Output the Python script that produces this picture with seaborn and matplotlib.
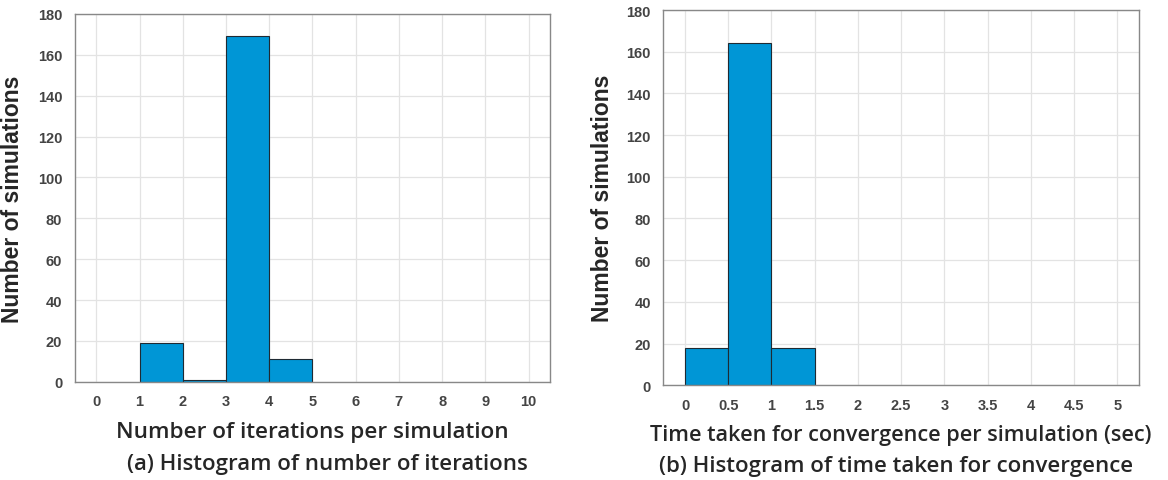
import numpy as np
import pandas as pd
import seaborn as sns
import matplotlib
matplotlib.use("Agg")
import matplotlib.pyplot as plt

# Data
iter_bin_edges = [1, 2, 3, 4, 5]
iter_counts = [19, 1, 169, 11]
time_bin_edges = [0, 0.5, 1.0, 1.5]
time_counts = [18, 164, 18]

iter_ticks = [0, 1, 2, 3, 4, 5, 6, 7, 8, 9, 10]
time_ticks = [0, 0.5, 1, 1.5, 2, 2.5, 3, 3.5, 4, 4.5, 5]
time_tick_labels = ["0", "0.5", "1", "1.5", "2", "2.5", "3", "3.5", "4", "4.5", "5"]
y_ticks = [0, 20, 40, 60, 80, 100, 120, 140, 160, 180]

sns.set_style("white")
plt.rcParams['font.family'] = ['Liberation Sans', 'DejaVu Sans']

BAR = "#0096d6"
EDGE = "#1f2a33"
TICKC = "#444444"
SPINE = "#888888"
LBLFONT = ['Open Sans', 'DejaVu Sans']

fig = plt.figure(figsize=(11.68, 4.81), dpi=100)
ax1 = fig.add_axes([0.064, 0.204, 0.407, 0.765])
ax2 = fig.add_axes([0.568, 0.197, 0.407, 0.780])

def style(ax):
    ax.grid(True, color="#e3e3e3", linewidth=0.9)
    ax.set_axisbelow(True)
    for s in ax.spines.values():
        s.set_visible(True)
        s.set_color(SPINE)
        s.set_linewidth(1.0)
    ax.tick_params(axis='both', direction='in', length=4, color=SPINE,
                   labelsize=10.5, labelcolor=TICKC, pad=9)
    for lab in ax.get_xticklabels() + ax.get_yticklabels():
        lab.set_fontweight('bold')
    ax.set_yticks(y_ticks)
    ax.set_ylim(0, 180)

# Left histogram
df1 = pd.DataFrame({"x": [(a + b) / 2 for a, b in zip(iter_bin_edges[:-1], iter_bin_edges[1:])],
                    "w": iter_counts})
sns.histplot(data=df1, x="x", weights="w", bins=iter_bin_edges, ax=ax1,
             color=BAR, alpha=1.0, edgecolor=EDGE, linewidth=0.8)
ax1.set_xlim(-0.5, 10.5)
ax1.set_xticks(iter_ticks)
style(ax1)
ax1.set_xlabel("Number of iterations per simulation", fontsize=16.2, family=LBLFONT,
               fontweight='semibold', labelpad=9)
ax1.set_ylabel("Number of simulations", fontsize=16.5, fontweight='bold', labelpad=10)

# Right histogram
df2 = pd.DataFrame({"x": [(a + b) / 2 for a, b in zip(time_bin_edges[:-1], time_bin_edges[1:])],
                    "w": time_counts})
sns.histplot(data=df2, x="x", weights="w", bins=time_bin_edges, ax=ax2,
             color=BAR, alpha=1.0, edgecolor=EDGE, linewidth=0.8)
ax2.set_xlim(-0.25, 5.25)
ax2.set_xticks(time_ticks)
ax2.set_xticklabels(time_tick_labels)
style(ax2)
ax2.set_xlabel("Time taken for convergence per simulation (sec)", fontsize=15.6,
               family=LBLFONT, fontweight='semibold', labelpad=9)
ax2.set_ylabel("Number of simulations", fontsize=16.5, fontweight='bold', labelpad=9)

fig.text(327 / 1168, 1 - 465 / 481, "(a) Histogram of number of iterations", fontsize=16,
         family=LBLFONT, fontweight='semibold', ha='center', va='center')
fig.text(896 / 1168, 1 - 467 / 481, "(b) Histogram of time taken for convergence", fontsize=16,
         family=LBLFONT, fontweight='semibold', ha='center', va='center')

fig.savefig("out.png", dpi=100)
